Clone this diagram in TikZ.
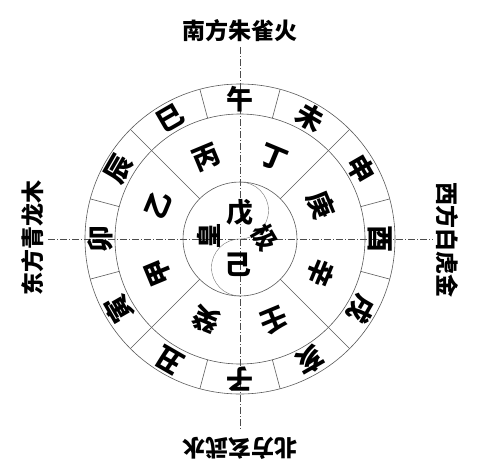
\documentclass[tikz,border=0pt]{standalone}
\usepackage{fontspec}
\newfontfamily\cjk{Noto Sans CJK SC}
\tikzset{
  ring/.style={draw=black!65, line width=.6pt},
  axis/.style={draw=black!70, line width=.5pt, dash pattern=on 7pt off 2pt on 1pt off 2pt},
  sign/.style={font=\cjk\bfseries\fontsize{27}{27}\selectfont},
  polesign/.style={font=\cjk\bfseries\fontsize{25}{25}\selectfont},
  quarter/.style={font=\cjk\bfseries\fontsize{23}{23}\selectfont}
}
\begin{document}
\begin{tikzpicture}[x=1pt, y=1pt, every node/.append style={inner sep=0pt}]
    \useasboundingbox (-240,-236) rectangle (253,239);
    \coordinate (O) at (0,0);
    \coordinate (N) at (0,192);
    \coordinate (S) at (0,-191);
    \coordinate (W) at (-192,0);
    \coordinate (E) at (193,0);
    \draw[axis] (N) -- (S) (W) -- (E);
    \draw[ring] (O) circle (155) (O) circle (125) (O) circle (57);
    \foreach \a in {15,45,...,345} \draw[ring] (\a:125) -- (\a:155);
    \foreach \a in {45,135,225,315} \draw[ring] (\a:57) -- (\a:125);
    \draw[draw=black!55, line width=.4pt] (0,57) arc[start angle=90, end angle=-90, radius=28.5]
        arc[start angle=90, end angle=270, radius=28.5];
    \foreach \c [count=\i from 0] in {午,未,申,酉,戌,亥,子,丑,寅,卯,辰,巳}
        \node[sign, rotate={-30*\i}] (zhi\i) at ({90-30*\i}:140) {\c};
    \foreach \c [count=\i from 0] in {丁,庚,辛,壬,癸,甲,乙,丙}
        \node[sign, rotate={-22.5-45*\i}] (gan\i) at ({67.5-45*\i}:88) {\c};
    \node[sign] (wu) at (0,26) {戊};
    \node[sign] (ji) at (-2,-26) {己};
    \node[polesign, rotate=90] (huang) at (-31,3) {皇};
    \node[polesign, rotate=-60] (jí) at (25,1) {极};
    \node[quarter] (south) at (0,208) {南方朱雀火};
    \node[quarter, rotate=180] (north) at (0,-209) {北方玄武水};
    \node[quarter, rotate=90] (east) at (-207,1) {东方青龙木};
    \node[quarter, rotate=-90] (west) at (207,-1) {西方白虎金};
  \end{tikzpicture}
\end{document}
